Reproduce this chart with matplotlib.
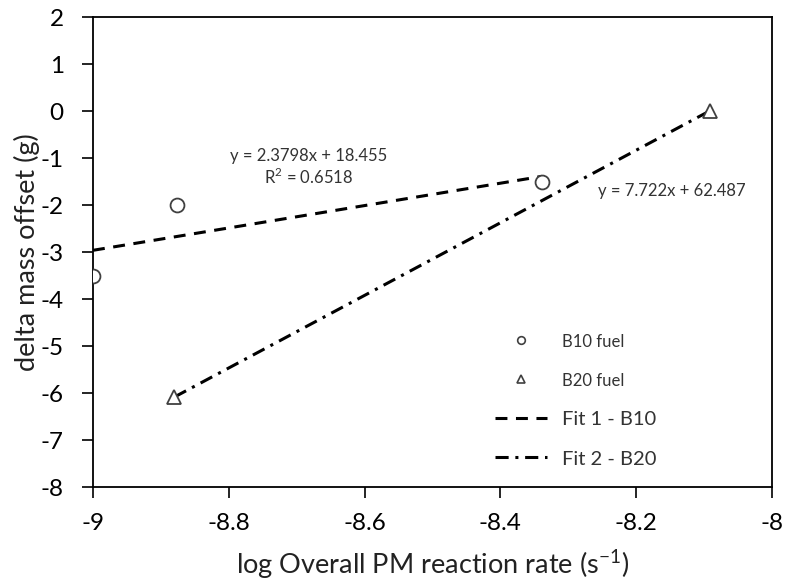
import numpy as np
import matplotlib.pyplot as plt
from matplotlib.lines import Line2D

plt.rcParams['font.family'] = ['Lato', 'DejaVu Sans']
plt.rcParams['axes.unicode_minus'] = False

# B10 fuel points
b10_x = [-9.0, -8.877, -8.339]
b10_y = [-3.5, -2.0, -1.5]
# B20 fuel points
b20_x = [-8.88, -8.092]
b20_y = [-6.08, 0.0]

# trend lines
fit1_slope, fit1_icpt = 2.3798, 18.455
fit2_slope, fit2_icpt = 7.722, 62.487

x_ticks = [-9, -8.8, -8.6, -8.4, -8.2, -8]
x_labels = ['-9', '-8.8', '-8.6', '-8.4', '-8.2', '-8']
y_ticks = [2, 1, 0, -1, -2, -3, -4, -5, -6, -7, -8]

DASH = (3.9, 2.8)
DASHDOT = (4.3, 2.2, 1.0, 2.2)
EDGE = '#404040'
TXT = '#333333'

fig = plt.figure(figsize=(7.86, 5.86), dpi=100)
ax = fig.add_axes([0.1183, 0.1689, 0.8639, 0.802])

ax.plot(b10_x, b10_y, 'o', ms=10, mfc='white', mec=EDGE, mew=1.3, zorder=3)
ax.plot(b20_x, b20_y, '^', ms=10, mfc='white', mec=EDGE, mew=1.3, zorder=3)

fx1 = np.array([min(b10_x), max(b10_x)])
ax.plot(fx1, fit1_slope * fx1 + fit1_icpt, color='black', lw=2.2, dashes=DASH, zorder=2)
fx2 = np.array([min(b20_x), max(b20_x)])
ax.plot(fx2, fit2_slope * fx2 + fit2_icpt, color='black', lw=2.2, dashes=DASHDOT, zorder=2)

ax.text(-8.683, -0.96, 'y = 2.3798x + 18.455', ha='center', va='center', fontsize=12, color=TXT)
ax.text(-8.683, -1.40, 'R$^{\\mathregular{2}}$ = 0.6518', ha='center', va='center', fontsize=12, color=TXT)
ax.text(-8.147, -1.70, 'y = 7.722x + 62.487', ha='center', va='center', fontsize=12, color=TXT)

ax.set_xlim(-9, -8)
ax.set_ylim(-8, 2)
ax.set_xticks(x_ticks)
ax.set_xticklabels(x_labels)
ax.set_yticks(y_ticks)
ax.tick_params(axis='both', direction='out', length=8, width=1.2, labelsize=17.5, colors='black')
ax.tick_params(axis='x', pad=11)
ax.tick_params(axis='y', pad=13)
for s in ax.spines.values():
    s.set_linewidth(1.3)
ax.set_xlabel('log Overall PM reaction rate (s$^{\\mathregular{-1}}$)', fontsize=19.5, color='#222222')
ax.set_ylabel('delta mass offset (g)', fontsize=19.5, color='#222222')
ax.xaxis.set_label_coords(0.5, -0.128)
ax.yaxis.set_label_coords(-0.078, 0.5)

handles = [
    Line2D([], [], ls='none', marker='o', ms=5.5, mfc='white', mec=EDGE, mew=1.2),
    Line2D([], [], ls='none', marker='^', ms=5.5, mfc='white', mec=EDGE, mew=1.2),
    Line2D([], [], color='black', lw=2.2, dashes=DASH),
    Line2D([], [], color='black', lw=2.2, dashes=DASHDOT),
]
leg = ax.legend(handles, ['B10 fuel', 'B20 fuel', 'Fit 1 - B10', 'Fit 2 - B20'],
                loc='center left', bbox_to_anchor=(0.592, 0.185), frameon=False,
                fontsize=14.5, borderpad=0, borderaxespad=0,
                labelspacing=1.1, handlelength=2.6, handletextpad=0.75)
for i, t in enumerate(leg.get_texts()):
    t.set_fontsize(12 if i < 2 else 14.5)
    t.set_color(TXT)

fig.savefig('out.png', dpi=100)
